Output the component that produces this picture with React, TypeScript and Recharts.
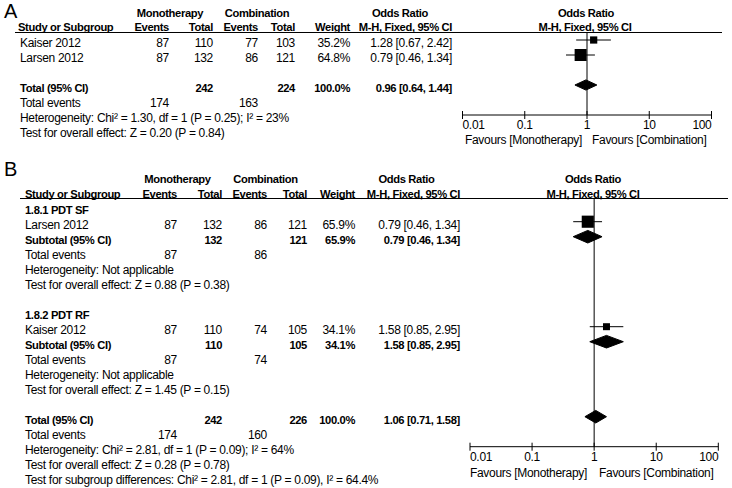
import React from "react";
import {
  ComposedChart, Scatter, ErrorBar, Area, XAxis, YAxis, ZAxis, ReferenceLine,
} from "recharts";

const FONT = "'Liberation Sans', Arial, sans-serif";
const REG = 12;
const BOLD = 11.2;

// shared odds-ratio axis
const ticks = [0.01, 0.1, 1, 10, 100];
const tickLabels = ["0.01", "0.1", "1", "10", "100"];

// ---- Panel A ----
const studiesA = ["Kaiser 2012", "Larsen 2012"];
const monoEventsA = [87, 87];
const monoTotalA = [110, 132];
const combEventsA = [77, 86];
const combTotalA = [103, 121];
const weightA = [35.2, 64.8];
const orA = [1.28, 0.79];
const lowA = [0.67, 0.46];
const highA = [2.42, 1.34];
const pooledA = [0.96, 0.64, 1.44];
const totalsA = [242, 224];
const totalEventsA = [174, 163];
const hetA = "Heterogeneity: Chi² = 1.30, df = 1 (P = 0.25); I² = 23%";
const testA = "Test for overall effect: Z = 0.20 (P = 0.84)";

// ---- Panel B ----
const subgroupsB = ["1.8.1 PDT SF", "1.8.2 PDT RF"];
const studiesB = ["Larsen 2012", "Kaiser 2012"];
const monoEventsB = [87, 87];
const monoTotalB = [132, 110];
const combEventsB = [86, 74];
const combTotalB = [121, 105];
const weightB = [65.9, 34.1];
const orB = [0.79, 1.58];
const lowB = [0.46, 0.85];
const highB = [1.34, 2.95];
const testSubB = ["Test for overall effect: Z = 0.88 (P = 0.38)", "Test for overall effect: Z = 1.45 (P = 0.15)"];
const pooledB = [1.06, 0.71, 1.58];
const totalsB = [242, 226];
const totalEventsB = [174, 160];
const hetB = "Heterogeneity: Chi² = 2.81, df = 1 (P = 0.09); I² = 64%";
const testB = "Test for overall effect: Z = 0.28 (P = 0.78)";
const subDiffB = "Test for subgroup differences: Chi² = 2.81, df = 1 (P = 0.09), I² = 64.4%";

const PITCH = 15;
const fmtOR = (e: number, l: number, h: number) => `${e.toFixed(2)} [${l.toFixed(2)}, ${h.toFixed(2)}]`;

function T({ x, y, b, a, children }: any) {
  return (
    <text x={x} y={y + 4} textAnchor={a || "start"} fontWeight={b ? "bold" : "normal"}
      fontSize={b ? BOLD : REG} letterSpacing={b ? -0.35 : -0.3} fill="#000" fontFamily={FONT}>
      {children}
    </text>
  );
}

// eslint-disable-next-line @typescript-eslint/no-explicit-any
function Tick(p: any) {
  const i = ticks.indexOf(p.payload.value);
  const anchor = i === 0 ? "start" : i === ticks.length - 1 ? "end" : "middle";
  return (
    <g>
      <line x1={p.x} x2={p.x} y1={p.y - 4} y2={p.y + 4} stroke="#000" />
      <text x={p.x} y={p.y + 14} textAnchor={anchor} fontSize={REG} letterSpacing={-0.3}
        fontFamily={FONT} fill="#000">
        {tickLabels[i]}
      </text>
    </g>
  );
}

// eslint-disable-next-line @typescript-eslint/no-explicit-any
function Square(p: any) {
  const s = Math.sqrt(p.size ?? 64);
  return <rect x={p.cx - s / 2} y={p.cy - s / 2} width={s} height={s} fill="#000" />;
}

function diamond(row: number, e: number, l: number, h: number, half: number) {
  return [
    { x: l, d: [row, row] },
    { x: e, d: [row - half, row + half] },
    { x: h, d: [row, row] },
  ];
}

// eslint-disable-next-line @typescript-eslint/no-explicit-any
function Forest({ width, height, margin, domain, points, diamonds }: any) {
  return (
    <ComposedChart width={width} height={height} margin={margin}>
      <XAxis type="number" dataKey="x" scale="log" domain={[0.01, 100]} ticks={ticks}
        allowDataOverflow interval={0} height={30} axisLine={{ stroke: "#000" }}
        tickLine={false} tickSize={0} tickMargin={0} tick={<Tick />} />
      <YAxis type="number" dataKey="y" domain={domain} reversed hide allowDataOverflow />
      <ZAxis type="number" dataKey="w" domain={[30, 70]} range={[36, 160]} />
      <ReferenceLine x={1} stroke="#000" />
      {diamonds.map((d: any, i: number) => (
        <Area key={i} data={d} dataKey="d" type="linear" fill="#000" fillOpacity={1}
          stroke="#000" strokeWidth={1} dot={false} activeDot={false} isAnimationActive={false} />
      ))}
      <Scatter data={points} shape={<Square />} isAnimationActive={false}>
        <ErrorBar dataKey="err" direction="x" width={0} stroke="#000" strokeWidth={1} isAnimationActive={false} />
      </Scatter>
    </ComposedChart>
  );
}

const rowsA = [0, 1];
const pointsA = orA.map((e, i) => ({ x: e, y: rowsA[i], w: weightA[i], err: [e - lowA[i], highA[i] - e] }));
const diamondsA = [diamond(3, pooledA[0], pooledA[1], pooledA[2], 0.34)];

const rowsB = [1, 8];
const subRowsB = [2, 9];
const pointsB = orB.map((e, i) => ({ x: e, y: rowsB[i], w: weightB[i], err: [e - lowB[i], highB[i] - e] }));
const diamondsB = [
  ...orB.map((e, i) => diamond(subRowsB[i], e, lowB[i], highB[i], 0.42)),
  diamond(14, pooledB[0], pooledB[1], pooledB[2], 0.42),
];

function PanelAText() {
  const c = { st: 20, ev: 169, tot: 213, cev: 258, ctot: 295, wt: 350, or: 452 };
  const ry = (r: number) => 42.5 + PITCH * r;
  return (
    <g>
      <text x={4} y={18} fontSize={20} fontFamily={FONT}>A</text>
      <T x={170} y={13} b a="middle">Monotherapy</T>
      <T x={257} y={13} b a="middle">Combination</T>
      <T x={400} y={13} b a="middle">Odds Ratio</T>
      <T x={586} y={13} b a="middle">Odds Ratio</T>
      <T x={18} y={26.5} b>Study or Subgroup</T>
      <T x={c.ev} y={26.5} b a="end">Events</T>
      <T x={c.tot} y={26.5} b a="end">Total</T>
      <T x={c.cev} y={26.5} b a="end">Events</T>
      <T x={c.ctot} y={26.5} b a="end">Total</T>
      <T x={c.wt} y={26.5} b a="end">Weight</T>
      <T x={c.or} y={26.5} b a="end">M-H, Fixed, 95% CI</T>
      <T x={585} y={26.5} b a="middle">M-H, Fixed, 95% CI</T>
      <line x1={15} x2={722} y1={32.5} y2={32.5} stroke="#000" />
      {studiesA.map((s, i) => (
        <g key={s}>
          <T x={c.st} y={ry(i)}>{s}</T>
          <T x={c.ev} y={ry(i)} a="end">{monoEventsA[i]}</T>
          <T x={c.tot} y={ry(i)} a="end">{monoTotalA[i]}</T>
          <T x={c.cev} y={ry(i)} a="end">{combEventsA[i]}</T>
          <T x={c.ctot} y={ry(i)} a="end">{combTotalA[i]}</T>
          <T x={c.wt} y={ry(i)} a="end">{weightA[i].toFixed(1)}%</T>
          <T x={c.or} y={ry(i)} a="end">{fmtOR(orA[i], lowA[i], highA[i])}</T>
        </g>
      ))}
      <T x={c.st} y={ry(3)} b>Total (95% CI)</T>
      <T x={c.tot} y={ry(3)} b a="end">{totalsA[0]}</T>
      <T x={c.ctot} y={ry(3)} b a="end">{totalsA[1]}</T>
      <T x={c.wt} y={ry(3)} b a="end">100.0%</T>
      <T x={c.or} y={ry(3)} b a="end">{fmtOR(pooledA[0], pooledA[1], pooledA[2])}</T>
      <T x={c.st} y={ry(4)}>Total events</T>
      <T x={c.ev} y={ry(4)} a="end">{totalEventsA[0]}</T>
      <T x={c.cev} y={ry(4)} a="end">{totalEventsA[1]}</T>
      <T x={c.st} y={ry(5)}>{hetA}</T>
      <T x={c.st} y={ry(6)}>{testA}</T>
      <T x={582} y={140} a="end">Favours [Monotherapy]</T>
      <T x={592} y={140}>Favours [Combination]</T>
    </g>
  );
}

function PanelBText() {
  const c = { st: 25, ev: 177, tot: 222, cev: 267, ctot: 307, wt: 355, or: 460 };
  const ry = (r: number) => 210 + PITCH * r;
  return (
    <g>
      <text x={4} y={176} fontSize={20} fontFamily={FONT}>B</text>
      <T x={177.5} y={179} b a="middle">Monotherapy</T>
      <T x={265.5} y={179} b a="middle">Combination</T>
      <T x={406.5} y={179} b a="middle">Odds Ratio</T>
      <T x={593} y={179} b a="middle">Odds Ratio</T>
      <T x={c.st} y={194} b>Study or Subgroup</T>
      <T x={c.ev} y={194} b a="end">Events</T>
      <T x={c.tot} y={194} b a="end">Total</T>
      <T x={c.cev} y={194} b a="end">Events</T>
      <T x={c.ctot} y={194} b a="end">Total</T>
      <T x={c.wt} y={194} b a="end">Weight</T>
      <T x={c.or} y={194} b a="end">M-H, Fixed, 95% CI</T>
      <T x={593} y={194} b a="middle">M-H, Fixed, 95% CI</T>
      <line x1={20} x2={728} y1={198.5} y2={198.5} stroke="#000" />
      {subgroupsB.map((g, i) => {
        const r0 = i * 7;
        return (
          <g key={g}>
            <T x={c.st} y={ry(r0)} b>{g}</T>
            <T x={c.st} y={ry(r0 + 1)}>{studiesB[i]}</T>
            <T x={c.ev} y={ry(r0 + 1)} a="end">{monoEventsB[i]}</T>
            <T x={c.tot} y={ry(r0 + 1)} a="end">{monoTotalB[i]}</T>
            <T x={c.cev} y={ry(r0 + 1)} a="end">{combEventsB[i]}</T>
            <T x={c.ctot} y={ry(r0 + 1)} a="end">{combTotalB[i]}</T>
            <T x={c.wt} y={ry(r0 + 1)} a="end">{weightB[i].toFixed(1)}%</T>
            <T x={c.or} y={ry(r0 + 1)} a="end">{fmtOR(orB[i], lowB[i], highB[i])}</T>
            <T x={c.st} y={ry(r0 + 2)} b>Subtotal (95% CI)</T>
            <T x={c.tot} y={ry(r0 + 2)} b a="end">{monoTotalB[i]}</T>
            <T x={c.ctot} y={ry(r0 + 2)} b a="end">{combTotalB[i]}</T>
            <T x={c.wt} y={ry(r0 + 2)} b a="end">{weightB[i].toFixed(1)}%</T>
            <T x={c.or} y={ry(r0 + 2)} b a="end">{fmtOR(orB[i], lowB[i], highB[i])}</T>
            <T x={c.st} y={ry(r0 + 3)}>Total events</T>
            <T x={c.ev} y={ry(r0 + 3)} a="end">{monoEventsB[i]}</T>
            <T x={c.cev} y={ry(r0 + 3)} a="end">{combEventsB[i]}</T>
            <T x={c.st} y={ry(r0 + 4)}>Heterogeneity: Not applicable</T>
            <T x={c.st} y={ry(r0 + 5)}>{testSubB[i]}</T>
          </g>
        );
      })}
      <T x={c.st} y={ry(14)} b>Total (95% CI)</T>
      <T x={c.tot} y={ry(14)} b a="end">{totalsB[0]}</T>
      <T x={c.ctot} y={ry(14)} b a="end">{totalsB[1]}</T>
      <T x={c.wt} y={ry(14)} b a="end">100.0%</T>
      <T x={c.or} y={ry(14)} b a="end">{fmtOR(pooledB[0], pooledB[1], pooledB[2])}</T>
      <T x={c.st} y={ry(15)}>Total events</T>
      <T x={c.ev} y={ry(15)} a="end">{totalEventsB[0]}</T>
      <T x={c.cev} y={ry(15)} a="end">{totalEventsB[1]}</T>
      <T x={c.st} y={ry(16)}>{hetB}</T>
      <T x={c.st} y={ry(17)}>{testB}</T>
      <T x={c.st} y={ry(18)}>{subDiffB}</T>
      <T x={587} y={472.5} a="end">Favours [Monotherapy]</T>
      <T x={599} y={472.5}>Favours [Combination]</T>
    </g>
  );
}

export default function App() {
  return (
    <div style={{ position: "fixed", left: 0, top: 0, width: 732, height: 488, background: "#fff", overflow: "hidden" }}>
      <svg width={732} height={488} style={{ position: "absolute", left: 0, top: 0 }}>
        <PanelAText />
        <PanelBText />
      </svg>
      <div style={{ position: "absolute", left: 440, top: 20 }}>
        <Forest width={290} height={130} margin={{ top: 12, right: 18.5, left: 22.5, bottom: 5 }}
          domain={[-8 / PITCH, 75 / PITCH]} points={pointsA} diamonds={diamondsA} />
      </div>
      <div style={{ position: "absolute", left: 440, top: 185 }}>
        <Forest width={290} height={303} margin={{ top: 13, right: 11.7, left: 30, bottom: 11.3 }}
          domain={[-8.7 / PITCH, 240 / PITCH]} points={pointsB} diamonds={diamondsB} />
      </div>
    </div>
  );
}
